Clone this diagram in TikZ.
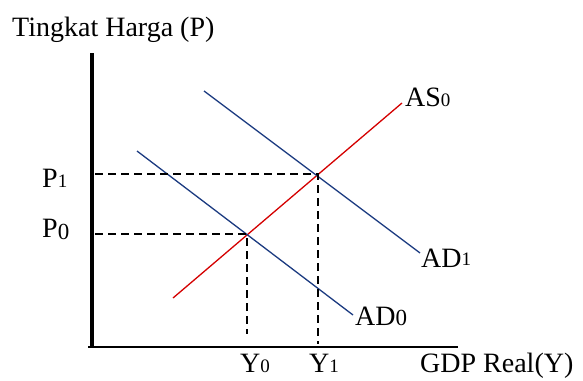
\documentclass[tikz,border=0pt]{standalone}
\usepackage{fontspec}
\setmainfont{Liberation Serif}
\usetikzlibrary{positioning, calc}
\definecolor{azulAD}{HTML}{1B3A80}
\definecolor{rojoAS}{HTML}{D40000}
\newcommand{\ind}[1]{{\fontsize{19}{19}\selectfont #1}}
\newcommand{\indb}[1]{{\fontsize{23}{23}\selectfont #1}}

\begin{document}
\begin{tikzpicture}[x=1pt, y=-1pt, font=\fontsize{28}{30}\selectfont,
        eje/.style={black, line width=1.5pt},
        ejey/.style={black, line width=4pt},
        guia/.style={black, line width=1.8pt, dash pattern=on 8pt off 5pt},
        ad/.style={azulAD, line width=1.3pt},
        as/.style={rojoAS, line width=1.3pt},
        lbl/.style={inner sep=0, anchor=base west}]
        \useasboundingbox (0,0) rectangle (583,380);
        % ejes
        \coordinate (o) at (92,347);
        \coordinate (ytop) at (92,53);
        \coordinate (xend) at (458,347);
        \coordinate (xini) at (88,347);
        \draw[ejey] (o) -- (ytop);
        \draw[eje] (xini) -- (xend);
        % curvas
        \coordinate (as0a) at (173,298);
        \coordinate (as0b) at (402,103);
        \coordinate (ad0a) at (137,151);
        \coordinate (ad0b) at (353,315);
        \coordinate (ad1a) at (204,91);
        \coordinate (ad1b) at (420,253);
        \draw[as] (as0a) -- (as0b);
        \draw[ad] (ad0a) -- (ad0b);
        \draw[ad] (ad1a) -- (ad1b);
        % equilibrios
        \coordinate (e0) at (247,234);
        \coordinate (e1) at (318,174);
        \coordinate (p0) at (95,234);
        \coordinate (p1) at (95,174);
        \coordinate (y0) at (247,334);
        \coordinate (y1) at (318,344);
        \draw[guia] (p0) -- (e0) -- (y0);
        \draw[guia] (p1) -- (e1) -- (y1);
        % textos
        \node[lbl] (tP) at (12,36) {Tingkat Harga (P)};
        \node[lbl] (tP1) at (42,187) {P\ind{1}};
        \node[lbl] (tP0) at (42,237) {P\raisebox{-2pt}{\indb{0}}};
        \node[lbl] (tY0) at (240,372) {Y\ind{0}};
        \node[lbl] (tY1) at (309,372) {Y\ind{1}};
        \node[lbl] (tY) at (420,372) {GDP Real(Y)};
        \node[lbl] (tAS0) at (405,106) {AS\ind{0}};
        \node[lbl] (tAD1) at (421,267) {AD\raisebox{2pt}{\ind{1}}};
        \node[lbl] (tAD0) at (355,325) {AD\indb{0}};
    \end{tikzpicture}
\end{document}
